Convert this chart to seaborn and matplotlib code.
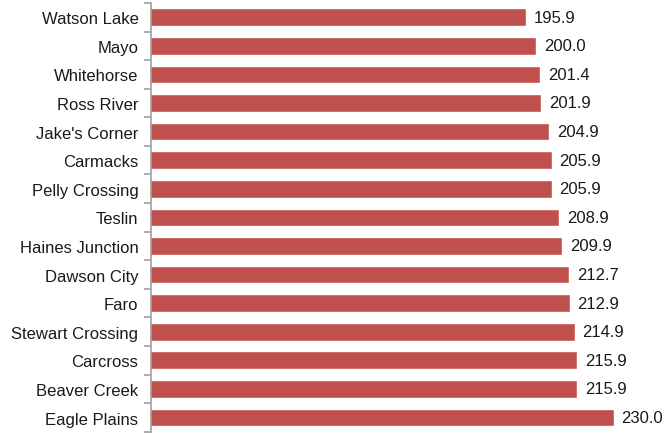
import matplotlib
matplotlib.use("Agg")
import matplotlib.pyplot as plt
import seaborn as sns
import pandas as pd

# Communities and their values
communities = ["Watson Lake", "Mayo", "Whitehorse", "Ross River", "Jake's Corner",
               "Carmacks", "Pelly Crossing", "Teslin", "Haines Junction", "Dawson City",
               "Faro", "Stewart Crossing", "Carcross", "Beaver Creek", "Eagle Plains"]
values = [195.9, 200.0, 201.4, 201.9, 204.9,
          205.9, 205.9, 208.9, 209.9, 212.7,
          212.9, 214.9, 215.9, 215.9, 230.0]

df = pd.DataFrame({"community": communities, "value": values})

sns.set_theme(style="white")
plt.rcParams["font.family"] = ["Liberation Sans", "DejaVu Sans"]

fig = plt.figure(figsize=(6.65, 4.35), dpi=100)
ax = fig.add_axes([0.227, 0.005, 0.773, 0.986])

sns.barplot(data=df, y="community", x="value", orient="h", color="#C0504D",
            saturation=1, width=0.62, ax=ax)

for i, v in enumerate(values):
    ax.text(v + 3.0, i, f"{v:.1f}", va="center", ha="left", fontsize=12, color="#1a1a1a")

ax.set_xlim(50, 250)
ax.set_ylim(len(communities) - 0.5, -0.5)
ax.set_xlabel("")
ax.set_ylabel("")
ax.set_xticks([])

# ticks on category boundaries, label text at centres
ax.set_yticks([i - 0.5 for i in range(len(communities) + 1)], minor=False)
ax.set_yticklabels([])
ax.set_yticks(range(len(communities)), labels=communities, minor=True)
ax.tick_params(axis="y", which="major", left=True, length=5, width=1.2, color="#A0A0A0")
ax.tick_params(axis="y", which="minor", left=False, length=0, pad=9, labelsize=12,
               labelcolor="#1a1a1a")

for side in ["top", "right", "bottom"]:
    ax.spines[side].set_visible(False)
ax.spines["left"].set_color("#A0A0A0")
ax.spines["left"].set_linewidth(1.2)

fig.savefig("out.png", dpi=100)
